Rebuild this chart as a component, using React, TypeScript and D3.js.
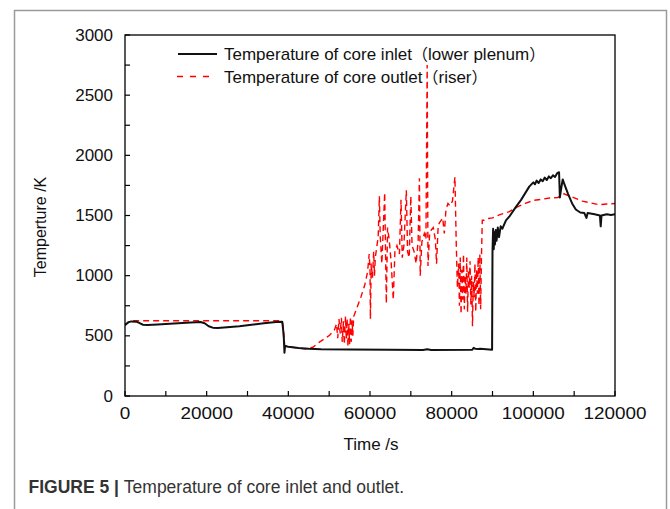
import React from "react";
import * as d3 from "d3";

// ---- data ----
const xTicks = [0, 20000, 40000, 60000, 80000, 100000, 120000];
const xMinorTicks = [10000, 30000, 50000, 70000, 90000, 110000];
const yTicks = [0, 500, 1000, 1500, 2000, 2500, 3000];
const yMinorTicks = [250, 750, 1250, 1750, 2250, 2750];

const seriesNames = ["Temperature of core inlet", "Temperature of core outlet"];
const seriesNotes = ["lower plenum", "riser"];

// core inlet (lower plenum): [time s, temperature K]
const inletTime = [
  0, 800, 1500, 2800, 3600, 4400, 5500, 8000, 11000, 15000, 18500, 19500, 20500, 21500, 22700,
  25000, 28000, 31000, 34000, 37000, 38500, 38700, 38900, 39050, 39200, 40000, 42500, 45000,
  48000, 55000, 65000, 73000, 74000, 75000, 85000, 85400, 85800, 86500, 87000, 89900,
  90000, 90150, 90300, 90450, 90600, 90800, 91000, 91300, 91600, 92000, 92400, 93300, 94100,
  95700, 97000, 99000, 100000, 100400, 100800, 101300, 101800, 102300, 102800, 103300, 103800,
  104300, 104800, 105300, 105800, 106300, 106500, 106800, 107200, 107600, 108500, 109500,
  110400, 111500, 112500, 113000, 113300, 115000, 116300, 116500, 116700, 118000, 119000, 120000,
];
const inletTemp = [
  590, 612, 620, 618, 605, 592, 590, 595, 600, 608, 615, 605, 580, 568, 565,
  572, 580, 592, 605, 615, 618, 560, 480, 360, 415, 410, 398, 392,
  388, 386, 384, 383, 388, 383, 384, 400, 392, 390, 392, 384,
  1200, 1390, 1220, 1360, 1260, 1380, 1290, 1400, 1320, 1410, 1390, 1460, 1490,
  1570, 1630, 1740, 1775, 1760, 1790, 1770, 1800, 1785, 1815, 1795, 1825,
  1810, 1835, 1820, 1850, 1860, 1650, 1720, 1800, 1760, 1680, 1600,
  1550, 1525, 1520, 1480, 1520, 1510, 1500, 1410, 1500, 1510, 1505, 1510,
];

// core outlet (riser): [time s, temperature K]
const outletTime = [
  0, 800, 1500, 10000, 20000, 30000, 38500, 38800, 39100, 40000, 42000, 44400, 46000, 47700,
  50100, 51300,
  51800, 52100, 52400, 52700, 53000, 53200, 53500, 53700, 54000, 54200, 54400, 54600, 54800,
  55000, 55200, 55400, 55600, 55800, 56000,
  56600, 57800, 58700, 59400, 59800, 60000, 60100, 60300, 60600, 60900, 61100, 61300, 61700,
  62000, 62300, 62500, 62900, 63200, 63600, 63800, 64000, 64300, 64700, 65200, 65700, 66100,
  66600, 67200, 67600, 67900, 68300, 68900, 69200, 69600, 70000, 70300, 70800, 71300, 71800,
  72100, 72300, 72700, 73300, 73700, 74000, 74200, 74600, 75000, 75500, 76000, 76300, 76700,
  77200, 77800, 78200, 78600, 79100, 79600, 80200, 80800, 81100, 81400, 81700,
  81900, 82100, 82300, 82500, 82700, 82900, 83100, 83300, 83500, 83700, 83900, 84100, 84300,
  84500, 84700, 84900, 85100, 85300, 85500, 85700, 85900, 86100, 86300, 86500, 86700, 86900,
  87100, 87300, 87500, 88000, 89000, 90000, 92000, 94000, 96000, 98000, 100000, 102000,
  104000, 106000, 107500, 109000, 110500, 112000, 114000, 116000, 118000, 120000,
];
const outletTemp = [
  585, 615, 625, 625, 625, 625, 625, 560, 420, 410, 400, 390, 405, 450,
  505, 550,
  600, 480, 640, 520, 650, 450, 620, 430, 660, 470, 640, 410, 600,
  430, 660, 450, 630, 500, 660,
  715, 825, 920, 1030, 1180, 1050, 640, 1100, 980, 1200, 1000, 1150, 1250,
  1320, 1660, 1330, 1100, 1350, 1690, 1200, 770, 1400, 1300, 1100, 800, 1200,
  1250, 1180, 1630, 1150, 1250, 1710, 1200, 1150, 1660, 1250, 1200, 1100, 1300,
  1810, 1000, 1280, 1350, 1300, 2750, 1080, 1350, 1380, 1400, 1300, 1100, 1420,
  1450, 1480, 1350, 1550, 1600, 1580, 1620, 1820, 1300, 900, 1100,
  750, 1150, 680, 1050, 800, 1180, 720, 1000, 850, 1150, 700, 1050, 900,
  1120, 760, 1000, 580, 950, 820, 1100, 700, 1050, 850, 1150, 750, 1180,
  720, 1160, 1460, 1460, 1475, 1480, 1510, 1530, 1570, 1600, 1625, 1635,
  1645, 1650, 1680, 1660, 1640, 1620, 1605, 1590, 1595, 1600,
];

const caption = "Temperature of core inlet and outlet.";

export default function App() {
  const left = 125, right = 615, top = 35, bottom = 396;
  const x = d3.scaleLinear().domain([0, 120000]).range([left, right]);
  const y = d3.scaleLinear().domain([0, 3000]).range([bottom, top]);

  const inlet = inletTime.map((t, i) => [t, inletTemp[i]] as [number, number]);
  const outlet = outletTime.map((t, i) => [t, outletTemp[i]] as [number, number]);
  const line = d3
    .line<[number, number]>()
    .x((d) => x(d[0]))
    .y((d) => y(d[1]));

  const font = "Arial, 'Liberation Sans', Helvetica, sans-serif";
  const cjk = "'Noto Sans CJK SC', 'Noto Sans CJK JP', sans-serif";
  const tickLen = 5;

  return (
    <svg
      width={670}
      height={509}
      style={{ position: "absolute", left: 0, top: 0, background: "#fff" }}
      fontFamily={font}
    >
      <rect x={14.5} y={10.5} width={652} height={520} fill="none" stroke="#9a9a9a" strokeWidth={1.5} />

      <defs>
        <clipPath id="plotclip">
          <rect x={left} y={top} width={right - left} height={bottom - top} />
        </clipPath>
      </defs>

      {/* data */}
      <g clipPath="url(#plotclip)">
        <path d={line(outlet) || ""} fill="none" stroke="#ff0000" strokeWidth={1.4} strokeDasharray="6,4" />
        <path d={line(inlet) || ""} fill="none" stroke="#111" strokeWidth={2} strokeLinejoin="round" />
      </g>

      {/* frame */}
      <rect x={left} y={top} width={right - left} height={bottom - top} fill="none" stroke="#000" strokeWidth={1.3} />

      {/* x ticks */}
      {xTicks.concat(xMinorTicks).map((t) => (
        <line key={"xt" + t} x1={x(t)} x2={x(t)} y1={bottom} y2={bottom - tickLen} stroke="#000" strokeWidth={1.2} />
      ))}
      {xTicks.map((t) => (
        <text
          key={"xl" + t}
          transform={`translate(${x(t)},419) scale(1.18,1)`}
          textAnchor="middle"
          fontSize={16}
          fill="#111"
        >
          {t}
        </text>
      ))}

      {/* y ticks */}
      {yTicks.concat(yMinorTicks).map((v) => (
        <line key={"yt" + v} x1={left} x2={left + tickLen} y1={y(v)} y2={y(v)} stroke="#000" strokeWidth={1.2} />
      ))}
      {yTicks.map((v) => (
        <text key={"yl" + v} x={113} y={y(v) + 5.5} textAnchor="end" fontSize={17} fill="#111">
          {v}
        </text>
      ))}

      {/* axis titles */}
      <text transform="translate(46,227) rotate(-90)" textAnchor="middle" fontSize={16} fill="#111">
        Temperture /K
      </text>
      <text x={371} y={450} textAnchor="middle" fontSize={17} fill="#111">
        Time /s
      </text>

      {/* legend */}
      <line x1={178} x2={217} y1={54} y2={54} stroke="#111" strokeWidth={2} />
      <text x={224} y={60} fontSize={17} fill="#111">
        {seriesNames[0]}
        <tspan fontFamily={cjk} fontSize={16}>（</tspan>
        {seriesNotes[0]}
        <tspan fontFamily={cjk} fontSize={16}>）</tspan>
      </text>
      <line x1={177} x2={210} y1={76.5} y2={76.5} stroke="#ff0000" strokeWidth={1.5} strokeDasharray="6,7" />
      <text x={224} y={82.5} fontSize={17} fill="#111">
        {seriesNames[1]}
        <tspan fontFamily={cjk} fontSize={16}>（</tspan>
        {seriesNotes[1]}
        <tspan fontFamily={cjk} fontSize={16}>）</tspan>
      </text>

      {/* caption */}
      <text x={28.5} y={493} fontSize={17.5} fill="#333">
        <tspan fontWeight="bold">FIGURE 5 | </tspan>
        <tspan>{caption}</tspan>
      </text>
    </svg>
  );
}
